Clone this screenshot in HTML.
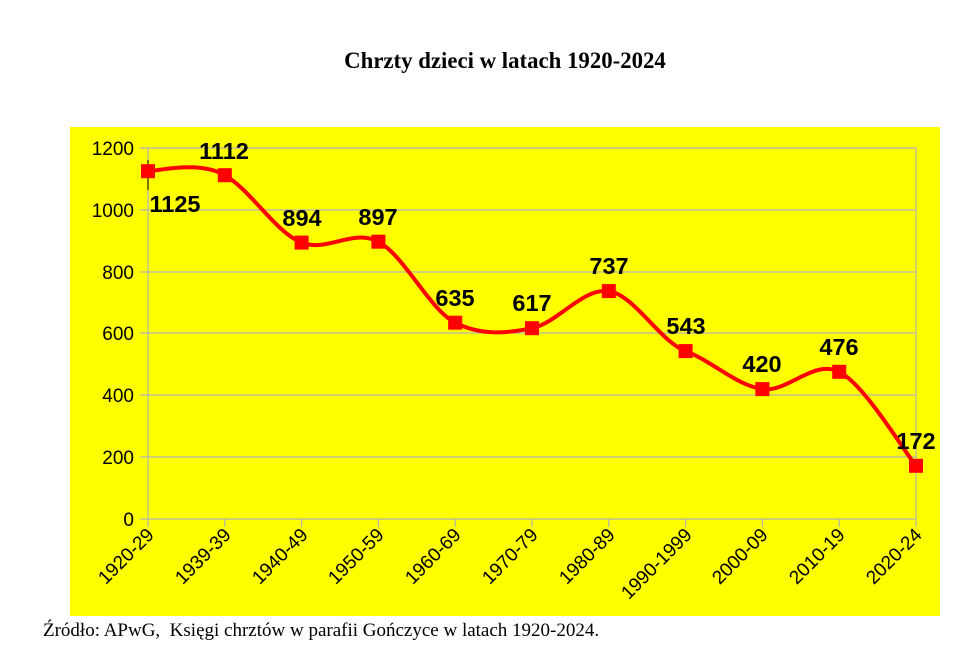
<!DOCTYPE html>
<html><head><meta charset="utf-8"><style>
body{margin:0;background:#fff;width:977px;height:651px;overflow:hidden}
</style></head><body>
<svg width="977" height="651" xmlns="http://www.w3.org/2000/svg" font-family="Liberation Sans, sans-serif">
<text x="505" y="68" text-anchor="middle" font-family="Liberation Serif, serif" font-weight="bold" font-size="22.8">Chrzty dzieci w latach 1920-2024</text>
<rect x="70" y="127" width="870" height="489" fill="#ffff00"/>
<g stroke="#b3b3b3" stroke-width="1.2">
<line x1="140" y1="148" x2="916" y2="148"/>
<line x1="140" y1="210" x2="916" y2="210"/>
<line x1="140" y1="272" x2="916" y2="272"/>
<line x1="140" y1="333" x2="916" y2="333"/>
<line x1="140" y1="395" x2="916" y2="395"/>
<line x1="140" y1="457" x2="916" y2="457"/>
<line x1="140" y1="519" x2="916" y2="519"/>
<line x1="148" y1="148" x2="148" y2="527"/>
<line x1="916" y1="148" x2="916" y2="527"/>
<line x1="224.8" y1="519" x2="224.8" y2="527"/><line x1="301.6" y1="519" x2="301.6" y2="527"/><line x1="378.4" y1="519" x2="378.4" y2="527"/><line x1="455.2" y1="519" x2="455.2" y2="527"/><line x1="532" y1="519" x2="532" y2="527"/><line x1="608.8" y1="519" x2="608.8" y2="527"/><line x1="685.6" y1="519" x2="685.6" y2="527"/><line x1="762.4" y1="519" x2="762.4" y2="527"/><line x1="839.2" y1="519" x2="839.2" y2="527"/>
</g>
<g font-size="19" text-anchor="end" fill="#000">
<text x="134" y="155">1200</text><text x="134" y="217">1000</text><text x="134" y="279">800</text><text x="134" y="340">600</text><text x="134" y="402">400</text><text x="134" y="464">200</text><text x="134" y="526">0</text>
</g>
<g font-size="19" text-anchor="end" fill="#000">
<text transform="translate(155,536) rotate(-45)">1920-29</text>
<text transform="translate(232,536) rotate(-45)">1939-39</text>
<text transform="translate(309,536) rotate(-45)">1940-49</text>
<text transform="translate(385,536) rotate(-45)">1950-59</text>
<text transform="translate(462,536) rotate(-45)">1960-69</text>
<text transform="translate(539,536) rotate(-45)">1970-79</text>
<text transform="translate(616,536) rotate(-45)">1980-89</text>
<text transform="translate(693,536) rotate(-45)">1990-1999</text>
<text transform="translate(769,536) rotate(-45)">2000-09</text>
<text transform="translate(846,536) rotate(-45)">2010-19</text>
<text transform="translate(923,536) rotate(-45)">2020-24</text>
</g>
<line x1="148" y1="160" x2="148" y2="190" stroke="#000" stroke-width="1"/>
<path fill="none" stroke="#ff0000" stroke-width="4" d="M148,171.2 C160.8,170.5 199.2,160.6 224.8,175.2 C250.4,189.8 276,232.6 301.6,242.6 C327.2,252.6 352.8,228.2 378.4,241.7 C404,255.2 429.6,309.7 455.2,322.7 C480.8,335.7 506.4,333.5 532,328.2 C557.6,322.9 583.2,287.3 608.8,291.1 C634.4,294.9 660,341.6 685.6,351.1 C711.2,360.6 736.8,385.6 762.4,389.1 C788,392.6 813.6,358.9 839.2,371.8 C864.8,384.7 903.2,450.1 916,465.8"/>
<g fill="#ff0000">
<rect x="141" y="164.2" width="14" height="14"/><rect x="217.8" y="168.2" width="14" height="14"/><rect x="294.6" y="235.6" width="14" height="14"/><rect x="371.4" y="234.7" width="14" height="14"/><rect x="448.2" y="315.7" width="14" height="14"/><rect x="525" y="321.2" width="14" height="14"/><rect x="601.8" y="284.1" width="14" height="14"/><rect x="678.6" y="344.1" width="14" height="14"/><rect x="755.4" y="382.1" width="14" height="14"/><rect x="832.2" y="364.8" width="14" height="14"/><rect x="909" y="458.8" width="14" height="14"/>
</g>
<g font-size="23.5" font-weight="bold" text-anchor="middle" fill="#000">
<text x="175" y="212">1125</text>
<text x="224" y="159">1112</text>
<text x="302" y="226">894</text>
<text x="378" y="225">897</text>
<text x="455" y="306">635</text>
<text x="532" y="311">617</text>
<text x="609" y="274">737</text>
<text x="686" y="334">543</text>
<text x="762" y="372">420</text>
<text x="839" y="355">476</text>
<text x="916" y="449">172</text>
</g>
<text x="43" y="636" font-family="Liberation Serif, serif" font-size="19" xml:space="preserve" style="white-space:pre">Źródło: APwG,  Księgi chrztów w parafii Gończyce w latach 1920-2024.</text>
</svg>
</body></html>
